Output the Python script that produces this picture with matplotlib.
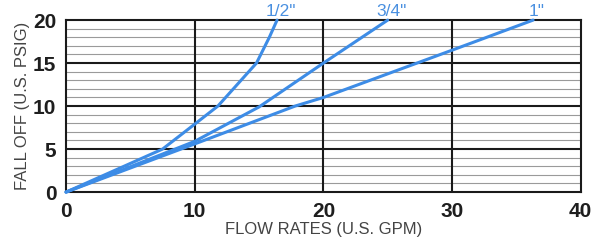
import matplotlib
matplotlib.use("Agg")
import matplotlib.pyplot as plt
import numpy as np

# Data
half_x = [0, 7.5, 10, 11.8, 14.8, 15.8, 16.4]
half_y = [0, 5.0, 7.9, 10.0, 15.0, 18.0, 20.0]
three_q_x = [0, 10, 15, 20, 25]
three_q_y = [0, 5.9, 9.9, 15.0, 20.0]
one_x = [0, 10, 17.8, 20, 30, 36.3]
one_y = [0, 5.6, 10.0, 11.0, 16.5, 20.0]
series_labels = ['1/2"', '3/4"', '1"']
x_ticks = [0, 10, 20, 30, 40]
y_ticks = [0, 5, 10, 15, 20]

line_color = "#3d8ce6"
label_color = "#4a90e0"

fig = plt.figure(figsize=(5.95, 2.45), dpi=100)
ax = fig.add_axes([0.111, 0.216, 0.865, 0.702])
ax.set_xlim(0, 40)
ax.set_ylim(0, 20)

# minor horizontal grid
for y in range(1, 20):
    if y % 5 != 0:
        ax.axhline(y, color="#9a9a9a", lw=0.8, zorder=1)
for y in [5, 10, 15]:
    ax.axhline(y, color="#1a1a1a", lw=1.5, zorder=2)
for x in [10, 20, 30]:
    ax.axvline(x, color="#1a1a1a", lw=1.5, zorder=2)

for xs, ys in [(half_x, half_y), (three_q_x, three_q_y), (one_x, one_y)]:
    ax.plot(xs, ys, color=line_color, lw=2.2, zorder=3, clip_on=False,
            solid_capstyle="round")

# series labels at top
for xs, lab in zip([half_x, three_q_x, one_x], series_labels):
    ax.text(xs[-1] + 0.3, 20.15, lab, color=label_color, fontsize=12.5,
            ha="center", va="bottom", family="Liberation Sans")

for s in ax.spines.values():
    s.set_linewidth(1.5)
    s.set_color("#1a1a1a")

ax.set_xticks(x_ticks)
ax.set_yticks(y_ticks)
ax.tick_params(length=0, labelsize=15, pad=7)
for t in ax.get_xticklabels() + ax.get_yticklabels():
    t.set_family("Liberation Sans")
    t.set_fontweight("bold")
    t.set_color("#1e1e1e")

ax.set_xlabel("FLOW RATES (U.S. GPM)", fontsize=12, color="#444444",
              family="Liberation Sans", labelpad=1)
ax.set_ylabel("FALL OFF (U.S. PSIG)", fontsize=12, color="#444444",
              family="Liberation Sans", labelpad=2)

fig.savefig("out.png", dpi=100)
